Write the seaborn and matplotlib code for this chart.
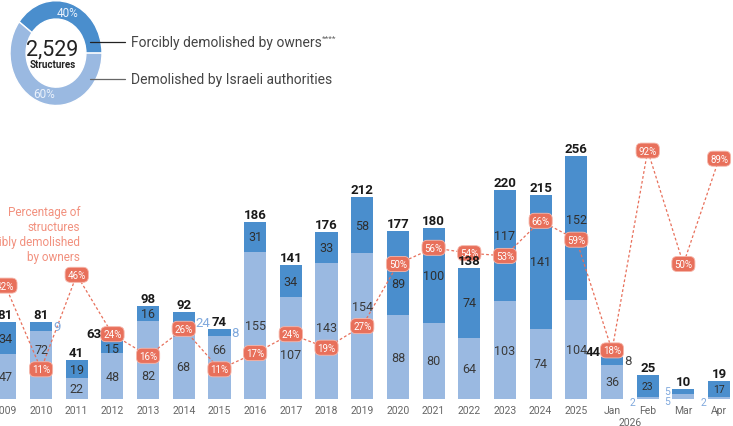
import matplotlib
matplotlib.use("Agg")
import matplotlib.pyplot as plt
import matplotlib.transforms as mtransforms
from matplotlib.lines import Line2D
import seaborn as sns
import pandas as pd

# data
periods = ['2009', '2010', '2011', '2012', '2013', '2014', '2015', '2016', '2017', '2018',
           '2019', '2020', '2021', '2022', '2023', '2024', '2025', 'Jan', 'Feb', 'Mar', 'Apr']
by_owners = [34, 9, 19, 15, 16, 24, 8, 31, 34, 33, 58, 89, 100, 74, 117, 141, 152, 8, 23, 5, 17]
by_authorities = [47, 72, 22, 48, 82, 68, 66, 155, 107, 143, 154, 88, 80, 64, 103, 74, 104, 36, 2, 5, 2]
owners_pct = [42, 11, 46, 24, 16, 26, 11, 17, 24, 19, 27, 50, 56, 54, 53, 66, 59, 18, 92, 50, 89]
months_year = '2026'
first_month = 17

DARK = '#4A8ECD'
LIGHT = '#9AB9E1'
SALMON = '#E8705B'
SALMON_TXT = '#F2917F'
OUT_BLUE = '#80A9DD'
GREY = '#666666'

sns.set_theme(style='white')
plt.rcParams['font.family'] = ['Roboto', 'DejaVu Sans']

W, H = 733, 427
fig = plt.figure(figsize=(W / 100, H / 100), dpi=100)

base_px, top_px = 400, 110
ax_h = base_px - top_px
bar_scale = 0.9505   # px per structure
pct_scale = 2.70     # px per percent
ax = fig.add_axes([0, 1 - base_px / H, 1, ax_h / H])

df = pd.DataFrame({'period': periods, 'owners': by_owners,
                   'authorities': by_authorities, 'pct': owners_pct})
df['total'] = df['owners'] + df['authorities']

sns.barplot(data=df, x='period', y='total', color=DARK, width=0.62, saturation=1,
            errorbar=None, linewidth=0, ax=ax)
sns.barplot(data=df, x='period', y='authorities', color=LIGHT, width=0.62, saturation=1,
            errorbar=None, linewidth=0, ax=ax)
ax.set_ylim(0, ax_h / bar_scale)
ax.set_xlim(-0.15, 20.39)
ax.set_xlabel('')
ax.set_ylabel('')
ax.set_yticks([])
ax.set_xticks(range(len(periods)))
ax.set_xticklabels(periods, color=GREY, fontsize=7.5)
ax.tick_params(axis='x', length=0, pad=4)
sns.despine(ax=ax, left=True, bottom=True)

trans = mtransforms.blended_transform_factory(ax.transData, fig.transFigure)
ax.text((first_month + first_month + 1) / 2, 1 - 423 / H, months_year, transform=trans,
        ha='center', va='center', color=GREY, fontsize=7.5)

# percentage line on its own scale
ax2 = ax.twinx()
ax2.set_ylim(0, ax_h / pct_scale)
ax2.plot(range(len(periods)), owners_pct, color=SALMON, lw=0.9, ls=(0, (2.2, 1.8)))
for i, p in enumerate(owners_pct):
    ax2.text(i, p, f'{p}%', ha='center', va='center', color='white', fontsize=7,
             bbox=dict(boxstyle='round,pad=0.26,rounding_size=0.55', fc=SALMON,
                       ec='#F6B7AB', lw=0.6), zorder=5)
ax2.axis('off')

half = 0.31


def seg_label(x, y_px, txt, color, size, ha='center', weight='normal', z=3):
    ax2.text(x, y_px / bar_scale, txt, ha=ha, va='center', color=color,
             fontsize=size, fontweight=weight, transform=ax.transData, zorder=z)


def avoid(c, bub, lo, hi):
    if abs(c - bub) < 22:
        c = bub + (20 if c >= bub else -20)
    return min(max(c, lo + 5), hi - 5)


for i, row in df.iterrows():
    a, o, t, p = row['authorities'], row['owners'], row['total'], row['pct']
    bub = p * pct_scale
    lo_l, hi_l = 0, a * bar_scale
    lo_d, hi_d = hi_l, t * bar_scale
    month = i >= first_month

    # light segment
    if a < 10:
        seg_label(i - half - 0.05, a / 2 * bar_scale - 4, str(a), OUT_BLUE, 7.5, ha='right')
        light_out = True
    else:
        seg_label(i, avoid((lo_l + hi_l) / 2, bub, lo_l, hi_l), str(a), '#3a3a3a', 9)
        light_out = False

    # dark segment
    bub_inside = lo_d < bub < hi_d and (hi_d - lo_d) < 30
    if o < 10 or bub_inside:
        if light_out:
            seg_label(i - half - 0.05, (lo_d + hi_d) / 2 + 1, str(o), OUT_BLUE, 7.5, ha='right')
        else:
            seg_label(i + half + 0.03, (lo_d + hi_d) / 2, str(o),
                      '#444444' if month else OUT_BLUE, 9.5, ha='left')
    else:
        seg_label(i, avoid((lo_d + hi_d) / 2, bub, lo_d, hi_d), str(o), '#2f2f2f',
                  7.5 if month else 9)

    # totals sit above the bubbles
    if abs(bub - hi_d) < 10:
        seg_label(i - half, hi_d + 6, str(t), '#1a1a1a', 9.5, ha='right', weight='bold', z=6)
    else:
        ax2.text(i, (hi_d + 1) / bar_scale, str(t), ha='center', va='bottom',
                 color='#1a1a1a', fontsize=9.5, fontweight='bold',
                 transform=ax.transData, zorder=6)

fig.text(80 / W, 1 - 235 / H, 'Percentage of\nstructures\nforcibly demolished\nby owners',
         ha='right', va='center', color=SALMON_TXT, fontsize=8.5, linespacing=1.2)

# donut summary
dax = fig.add_axes([10 / W, 1 - 106.5 / H, 92 / W, 104.8 / H])
pie_vals = [sum(by_owners), sum(by_authorities)]
dax.pie(pie_vals, colors=[DARK, LIGHT], startangle=0, counterclock=True,
        wedgeprops=dict(width=0.35, edgecolor='white', linewidth=1),
        autopct='%1.0f%%', pctdistance=0.82,
        textprops=dict(color='#EAF1FB', fontsize=8.5))
dax.set_aspect('auto')
dax.set_xlim(-1, 1)
dax.set_ylim(-1, 1)
dax.text(-0.08, 0.08, f'{sum(pie_vals):,}', ha='center', va='center', fontsize=15.5, color='#222222')
dax.text(-0.08, -0.21, 'Structures', ha='center', va='center', fontsize=7,
         fontweight='bold', color='#222222')

fig.add_artist(Line2D([90 / W, 125 / W], [1 - 42.7 / H] * 2, color='#222222', lw=0.9))
fig.add_artist(Line2D([90 / W, 125 / W], [1 - 80 / H] * 2, color=GREY, lw=0.9))
t1 = fig.text(131 / W, 1 - 42.7 / H, 'Forcibly demolished by owners', ha='left', va='center',
              fontsize=10, color='#444444')
fig.text(131 / W, 1 - 80 / H, 'Demolished by Israeli authorities', ha='left', va='center',
         fontsize=10, color='#444444')
ax.annotate('****', xy=(1, 1), xycoords=t1, ha='left', va='top', fontsize=6, color=GREY)

fig.savefig('out.png', dpi=100)
